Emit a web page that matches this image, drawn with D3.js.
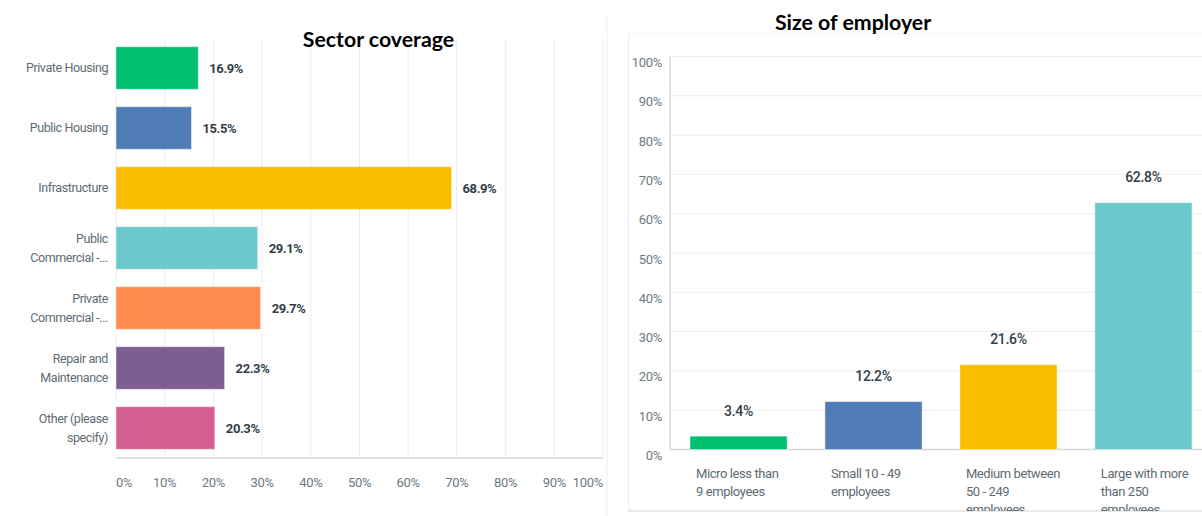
<!DOCTYPE html>
<html>
<head>
<meta charset="utf-8">
<script src="https://cdnjs.cloudflare.com/ajax/libs/d3/7.8.5/d3.min.js"></script>
<style>
  html, body { margin: 0; padding: 0; background: #fff; }
  svg { display: block; }
  .lbl { font-family: "Roboto", sans-serif; }
  .title { font-family: "Lato", "Open Sans", sans-serif; font-weight: 700; }
</style>
</head>
<body>
<svg id="chart" width="1202" height="516"></svg>
<script>
// Sector coverage (horizontal bars)
const sectorLabels = [
  ["Private Housing"],
  ["Public Housing"],
  ["Infrastructure"],
  ["Public", "Commercial -..."],
  ["Private", "Commercial -..."],
  ["Repair and", "Maintenance"],
  ["Other (please", "specify)"]
];
const sectorValues = [16.9, 15.5, 68.9, 29.1, 29.7, 22.3, 20.3];

// Size of employer (vertical bars)
const sizeLabels = [
  ["Micro less than", "9 employees"],
  ["Small 10 - 49", "employees"],
  ["Medium between", "50 - 249", "employees"],
  ["Large with more", "than 250", "employees"]
];
const sizeValues = [3.4, 12.2, 21.6, 62.8];

const percentTicks = [0, 10, 20, 30, 40, 50, 60, 70, 80, 90, 100];
const palette = ["#00BF6F", "#507CB6", "#F9BE00", "#6BC8CD", "#FF8B4F", "#7D5E90", "#D25F90"];

const svg = d3.select("#chart");
const gridColor = "#ececec";
const axisColor = "#d6d6d6";
const tickText = "#6d7a82";
const valueText = "#333e48";
const fmt = v => v.toFixed(1) + "%";

// ---------- left panel ----------
const L = { left: 116, right: 603, top: 38, bottom: 458 };
const x1 = d3.scaleLinear().domain([0, 100]).range([L.left, L.right]);
const y1 = d3.scaleBand().domain(d3.range(sectorValues.length))
  .range([L.top, L.bottom]).paddingInner(0.29).paddingOuter(0.145);

const gL = svg.append("g");
gL.selectAll("line.grid").data(percentTicks).join("line")
  .attr("x1", d => x1(d)).attr("x2", d => x1(d))
  .attr("y1", L.top).attr("y2", L.bottom)
  .attr("stroke", gridColor).attr("stroke-width", 1);

gL.append("line").attr("x1", L.left).attr("x2", L.right)
  .attr("y1", L.bottom).attr("y2", L.bottom)
  .attr("stroke", axisColor).attr("stroke-width", 1.5);

gL.selectAll("text.xtick").data(percentTicks).join("text")
  .attr("class", "lbl")
  .attr("x", (d, i) => x1(d))
  .attr("y", 487)
  .attr("text-anchor", (d, i) => i === 0 ? "start" : i === percentTicks.length - 1 ? "end" : "middle")
  .attr("font-size", 13).attr("letter-spacing", -0.3).attr("fill", tickText)
  .text(d => d + "%");

gL.selectAll("rect.bar").data(sectorValues).join("rect")
  .attr("x", x1(0))
  .attr("y", (d, i) => y1(i))
  .attr("width", d => x1(d) - x1(0))
  .attr("height", y1.bandwidth())
  .attr("fill", (d, i) => palette[i])
  .attr("stroke", "rgba(255,255,255,0.45)").attr("stroke-width", 1);

gL.selectAll("text.val").data(sectorValues).join("text")
  .attr("class", "lbl")
  .attr("x", d => x1(d) + 11)
  .attr("y", (d, i) => y1(i) + y1.bandwidth() / 2)
  .attr("dy", "0.35em")
  .attr("font-size", 13).attr("font-weight", 700).attr("letter-spacing", -0.4)
  .attr("fill", valueText)
  .text(fmt);

const catL = gL.selectAll("text.cat").data(sectorLabels).join("text")
  .attr("class", "lbl")
  .attr("text-anchor", "end")
  .attr("font-size", 12.5).attr("letter-spacing", -0.4).attr("fill", "#5d6b73");
catL.each(function (lines, i) {
  const cy = y1(i) + y1.bandwidth() / 2;
  const lh = 19;
  d3.select(this).selectAll("tspan").data(lines).join("tspan")
    .attr("x", 108)
    .attr("y", (l, j) => cy + (j - (lines.length - 1) / 2) * lh)
    .attr("dy", "0.35em")
    .text(l => l);
});

svg.append("text").attr("class", "title")
  .attr("x", (L.left + L.right) / 2 + 19).attr("y", 47)
  .attr("text-anchor", "middle").attr("font-size", 21.3).attr("fill", "#000")
  .text("Sector coverage");

// panel edge between the two charts
svg.append("line").attr("x1", 607).attr("x2", 607).attr("y1", 15).attr("y2", 516)
  .attr("stroke", "#eeeeee").attr("stroke-width", 1);

// ---------- right panel ----------
const R = { left: 670, right: 1212, top: 56.5, bottom: 449.5 };
const x2 = d3.scaleBand().domain(d3.range(sizeValues.length))
  .range([R.left, R.right]).paddingInner(0.28).paddingOuter(0.148);
const y2 = d3.scaleLinear().domain([0, 100]).range([R.bottom, R.top]);

const clipId = "rightClip";
svg.append("clipPath").attr("id", clipId).append("rect")
  .attr("x", 628).attr("y", 33).attr("width", 600).attr("height", 478);

// frame of the right panel
svg.append("line").attr("x1", 628.5).attr("x2", 628.5).attr("y1", 33).attr("y2", 511)
  .attr("stroke", "#eeeeee");
svg.append("line").attr("x1", 628).attr("x2", 1202).attr("y1", 33.5).attr("y2", 33.5)
  .attr("stroke", "#f6f6f6");
svg.append("line").attr("x1", 628).attr("x2", 1202).attr("y1", 511).attr("y2", 511)
  .attr("stroke", "#e2e2e2").attr("stroke-width", 1.5);

const gR = svg.append("g").attr("clip-path", `url(#${clipId})`);

gR.selectAll("line.grid").data(percentTicks.slice(1)).join("line")
  .attr("x1", R.left).attr("x2", 1202)
  .attr("y1", d => y2(d)).attr("y2", d => y2(d))
  .attr("stroke", gridColor).attr("stroke-width", 1);

gR.append("line").attr("x1", R.left).attr("x2", R.left)
  .attr("y1", R.top).attr("y2", R.bottom)
  .attr("stroke", axisColor).attr("stroke-width", 1.5);
gR.append("line").attr("x1", R.left).attr("x2", 1202)
  .attr("y1", R.bottom).attr("y2", R.bottom)
  .attr("stroke", axisColor).attr("stroke-width", 1.5);

gR.selectAll("text.ytick").data(percentTicks).join("text")
  .attr("class", "lbl")
  .attr("x", 662)
  .attr("y", d => y2(d) + 6)
  .attr("dy", "0.35em")
  .attr("text-anchor", "end")
  .attr("font-size", 13).attr("letter-spacing", -0.3).attr("fill", tickText)
  .text(d => d + "%");

gR.selectAll("rect.bar").data(sizeValues).join("rect")
  .attr("x", (d, i) => x2(i))
  .attr("y", d => y2(d))
  .attr("width", x2.bandwidth())
  .attr("height", d => y2(0) - y2(d))
  .attr("fill", (d, i) => palette[i])
  .attr("stroke", "rgba(255,255,255,0.45)").attr("stroke-width", 1);

gR.selectAll("text.val").data(sizeValues).join("text")
  .attr("class", "lbl")
  .attr("x", (d, i) => x2(i) + x2.bandwidth() / 2)
  .attr("y", d => y2(d) - 25.5)
  .attr("dy", "0.35em")
  .attr("text-anchor", "middle")
  .attr("font-size", 14).attr("font-weight", 500).attr("letter-spacing", -0.3)
  .attr("fill", valueText)
  .text(fmt);

const catR = gR.selectAll("text.cat").data(sizeLabels).join("text")
  .attr("class", "lbl")
  .attr("font-size", 13).attr("letter-spacing", -0.4).attr("fill", "#5d6b73");
catR.each(function (lines, i) {
  d3.select(this).selectAll("tspan").data(lines).join("tspan")
    .attr("x", x2(i) + 6)
    .attr("y", (l, j) => 473 + j * 18)
    .attr("dy", "0.35em")
    .text(l => l);
});

svg.append("text").attr("class", "title")
  .attr("x", 853).attr("y", 30)
  .attr("text-anchor", "middle").attr("font-size", 21.3).attr("fill", "#000")
  .text("Size of employer");
</script>
</body>
</html>
